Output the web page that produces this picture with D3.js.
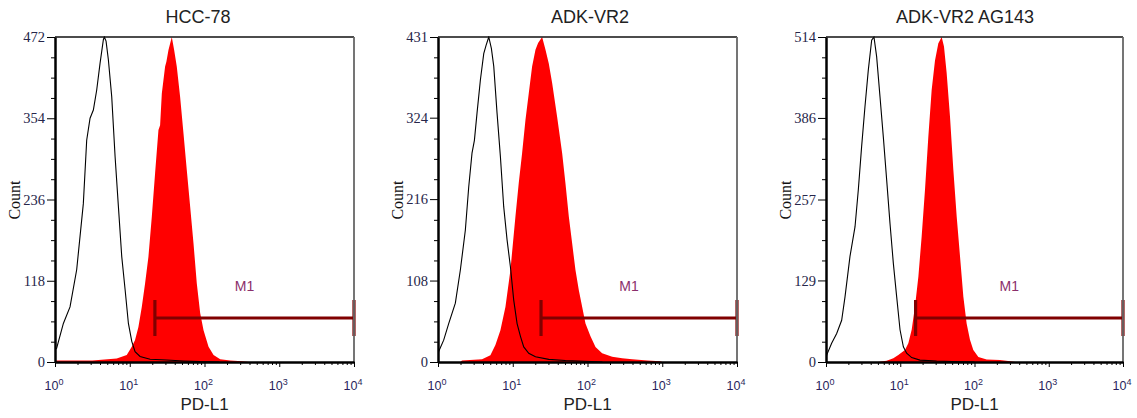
<!DOCTYPE html>
<html lang="en">
<head>
<meta charset="UTF-8">
<title>PD-L1 histograms</title>
<script src="https://cdn.jsdelivr.net/npm/d3@7"></script>
<style>
  body { margin: 0; background: #fff; }
  svg { display: block; }
  .sans { font-family: "Liberation Sans", Arial, sans-serif; }
  .serif { font-family: "Liberation Serif", "Times New Roman", serif; }
</style>
</head>
<body>
<script>
// panel titles and y axis ranges
const titles = ["HCC-78", "ADK-VR2", "ADK-VR2 AG143"];
const yMax = [472, 431, 514];
const yTickLabels = [
  [0, 118, 236, 354, 472],
  [0, 108, 216, 324, 431],
  [0, 129, 257, 386, 514]
];
const xDecades = [1, 10, 100, 1000, 10000];
const markerStart = [21.7, 23.9, 16.1];   // M1 gate, left end (PD-L1 intensity)
const markerEnd = 10000;

// histograms: [log10 PD-L1 intensity, count]
const hccIsotype = [[0,18],[0.022,20],[0.112,56],[0.201,80],[0.29,134],[0.379,230],[0.424,322],[0.469,354],
  [0.513,366],[0.558,395],[0.603,434],[0.647,468],[0.66,472],[0.683,466],[0.714,439],[0.759,385],[0.804,298],
  [0.848,226],[0.893,153],[0.938,105],[0.982,56],[1.027,30],[1.071,15],[1.138,8],[1.272,4],[1.496,3],
  [1.719,1.5],[1.942,0.5],[2.2,0]];
const hccStained = [[0,2],[0.5,2],[0.826,5],[0.96,10],[1.027,22],[1.071,32],[1.116,51],[1.161,80],[1.205,114],
  [1.25,153],[1.295,211],[1.339,274],[1.384,337],[1.406,344],[1.429,390],[1.473,429],[1.49,436],[1.518,453],
  [1.5625,472],[1.594,453],[1.629,429],[1.674,385],[1.719,332],[1.763,279],[1.808,226],[1.853,172],[1.897,114],
  [1.942,71],[1.987,46],[2.054,22],[2.121,10],[2.21,4],[2.344,2],[2.5,1],[2.6,0]];

const vr2Isotype = [[0,8],[0.009,14],[0.076,29],[0.143,51],[0.232,78],[0.299,122],[0.366,175],[0.411,232],
  [0.455,277],[0.487,294],[0.522,330],[0.567,374],[0.612,409],[0.643,420],[0.679,431],[0.714,416],[0.746,392],
  [0.79,330],[0.835,272],[0.879,206],[0.924,162],[0.969,126],[1.013,82],[1.058,51],[1.103,34],[1.147,20],
  [1.214,11.5],[1.304,7],[1.482,3.5],[1.705,2],[1.973,1],[2.2,0]];
const vr2Stained = [[0.3,0],[0.321,2],[0.589,3.5],[0.701,9],[0.768,22.5],[0.835,42],[0.902,73],[0.969,122],
  [1.036,193],[1.08,237],[1.125,277],[1.17,321],[1.214,356],[1.259,392],[1.304,414],[1.339,423],[1.393,431],
  [1.438,414],[1.482,396],[1.527,370],[1.594,325],[1.661,277],[1.705,237],[1.75,193],[1.795,157],[1.839,122],
  [1.884,95],[1.929,73],[1.973,51],[2.04,34],[2.107,20],[2.196,11.5],[2.33,7],[2.464,5],[2.598,3.5],[2.8,2],
  [2.97,1],[3.0,0]];

const ag143Isotype = [[0,5],[0.009,11],[0.076,29.5],[0.144,45],[0.211,66],[0.256,103],[0.323,167],[0.391,214],
  [0.435,272],[0.48,341],[0.525,404],[0.57,462],[0.615,509],[0.646,514],[0.682,483],[0.727,420],[0.772,356],
  [0.817,288],[0.862,219],[0.907,156],[0.952,103],[0.997,51],[1.042,24],[1.086,14],[1.154,7],[1.266,3],
  [1.49,1.5],[1.805,0.5],[2.0,0]];
const ag143Stained = [[0.7,0],[0.817,2],[0.907,6],[0.974,11],[1.019,15],[1.064,19],[1.109,29.5],[1.154,51],
  [1.199,88],[1.244,135],[1.288,198],[1.333,272],[1.378,356],[1.423,430],[1.468,477],[1.513,504],[1.558,514],
  [1.589,499],[1.625,457],[1.67,388],[1.715,304],[1.76,230],[1.805,167],[1.85,103],[1.894,61],[1.939,35],
  [1.984,19],[2.052,8],[2.164,4],[2.343,3],[2.48,1],[2.55,0]];

const isotypes = [hccIsotype, vr2Isotype, ag143Isotype];
const stained = [hccStained, vr2Stained, ag143Stained];

// layout
const W = 1137, H = 418;
const plotTop = 37, plotBottom = 362;
const panels = [
  {left: 55, right: 354, titleX: 198},
  {left: 438, right: 737, titleX: 590},
  {left: 826, right: 1123, titleX: 965}
];

const svg = d3.select("body").append("svg")
  .attr("width", W).attr("height", H);

panels.forEach((p, i) => {
  const g = svg.append("g");
  const x = d3.scaleLog().domain([1, 1e4]).range([p.left, p.right]);
  const y = d3.scaleLinear().domain([0, yMax[i]]).range([plotBottom, plotTop]);

  g.append("clipPath").attr("id", "clip" + i)
    .append("rect")
    .attr("x", p.left).attr("y", plotTop - 1)
    .attr("width", p.right - p.left).attr("height", plotBottom - plotTop + 1);

  const plot = g.append("g").attr("clip-path", `url(#clip${i})`);

  // stained sample, filled red
  plot.append("path")
    .datum(stained[i])
    .attr("fill", "#ff0000")
    .attr("d", d3.area()
      .x(d => x(10 ** d[0]))
      .y0(plotBottom)
      .y1(d => y(d[1])));

  // isotype control, black outline
  plot.append("path")
    .datum(isotypes[i])
    .attr("fill", "none")
    .attr("stroke", "#000")
    .attr("stroke-width", 1.1)
    .attr("d", d3.line()
      .x(d => x(10 ** d[0]))
      .y(d => y(d[1])));

  // M1 gate marker
  const mx0 = x(markerStart[i]), mx1 = x(markerEnd), my = 318;
  const marker = g.append("g").attr("stroke", "#800000").attr("stroke-width", 3.2);
  marker.append("line").attr("x1", mx0).attr("x2", mx1).attr("y1", my).attr("y2", my);
  marker.append("line").attr("x1", mx0).attr("x2", mx0).attr("y1", my - 18).attr("y2", my + 18);
  marker.append("line").attr("x1", mx1).attr("x2", mx1).attr("y1", my - 18).attr("y2", my + 18);
  g.append("text").attr("class", "sans")
    .attr("x", (mx0 + mx1) / 2 - 10).attr("y", 291)
    .attr("text-anchor", "middle")
    .attr("font-size", 14)
    .attr("fill", "#8b2f6b")
    .text("M1");

  // frame top / right
  g.append("line").attr("x1", p.left).attr("x2", p.right).attr("y1", plotTop).attr("y2", plotTop)
    .attr("stroke", "#111").attr("stroke-width", 1.5);
  g.append("line").attr("x1", p.right).attr("x2", p.right).attr("y1", plotTop).attr("y2", plotBottom)
    .attr("stroke", "#666").attr("stroke-width", 1.8);

  // y axis
  const yAxis = g.append("g").attr("class", "serif")
    .attr("transform", `translate(${p.left},0)`)
    .call(d3.axisLeft(y).tickValues(yTickLabels[i]).tickSize(8).tickSizeOuter(0)
      .tickPadding(2).tickFormat(d3.format("d")));
  yAxis.select(".domain").attr("stroke", "#000").attr("stroke-width", 2.5);
  yAxis.selectAll("text").attr("font-size", 14.5).attr("fill", "#26264a");

  const yMinor = d3.range(1, 16).filter(k => k % 4).map(k => yMax[i] * k / 16);
  const yMinorAxis = g.append("g")
    .attr("transform", `translate(${p.left},0)`)
    .call(d3.axisLeft(y).tickValues(yMinor).tickSize(4).tickFormat(""));
  yMinorAxis.select(".domain").remove();

  // x axis
  const xMinor = [];
  xDecades.slice(0, -1).forEach(d => { for (let k = 2; k < 10; k++) xMinor.push(d * k); });
  const xAxis = g.append("g")
    .attr("transform", `translate(0,${plotBottom})`)
    .call(d3.axisBottom(x).tickValues(xDecades).tickSize(5).tickSizeOuter(0).tickFormat(""));
  xAxis.select(".domain").attr("stroke", "#000").attr("stroke-width", 2.5);
  g.append("g")
    .attr("transform", `translate(0,${plotBottom})`)
    .call(d3.axisBottom(x).tickValues(xMinor).tickSize(3).tickFormat(""))
    .select(".domain").remove();

  const xl = g.selectAll(".xlab").data(xDecades).enter().append("text")
    .attr("class", "sans xlab")
    .attr("x", d => x(d) - 1)
    .attr("y", 390)
    .attr("text-anchor", "middle")
    .attr("font-size", 12.5)
    .attr("fill", "#2a1f5c");
  xl.append("tspan").text("10");
  xl.append("tspan").attr("font-size", 9).attr("dy", -5)
    .text(d => Math.round(Math.log10(d)));

  // titles and axis labels
  g.append("text").attr("class", "sans")
    .attr("x", p.titleX).attr("y", 23)
    .attr("text-anchor", "middle").attr("font-size", 18).attr("fill", "#222")
    .text(titles[i]);
  g.append("text").attr("class", "sans")
    .attr("x", (p.left + p.right) / 2).attr("y", 410)
    .attr("text-anchor", "middle").attr("font-size", 17).attr("fill", "#222")
    .text("PD-L1");
  g.append("text").attr("class", "serif")
    .attr("transform", `translate(${p.left - 35},200) rotate(-90)`)
    .attr("text-anchor", "middle").attr("font-size", 16).attr("fill", "#111")
    .text("Count");
});
</script>
</body>
</html>
